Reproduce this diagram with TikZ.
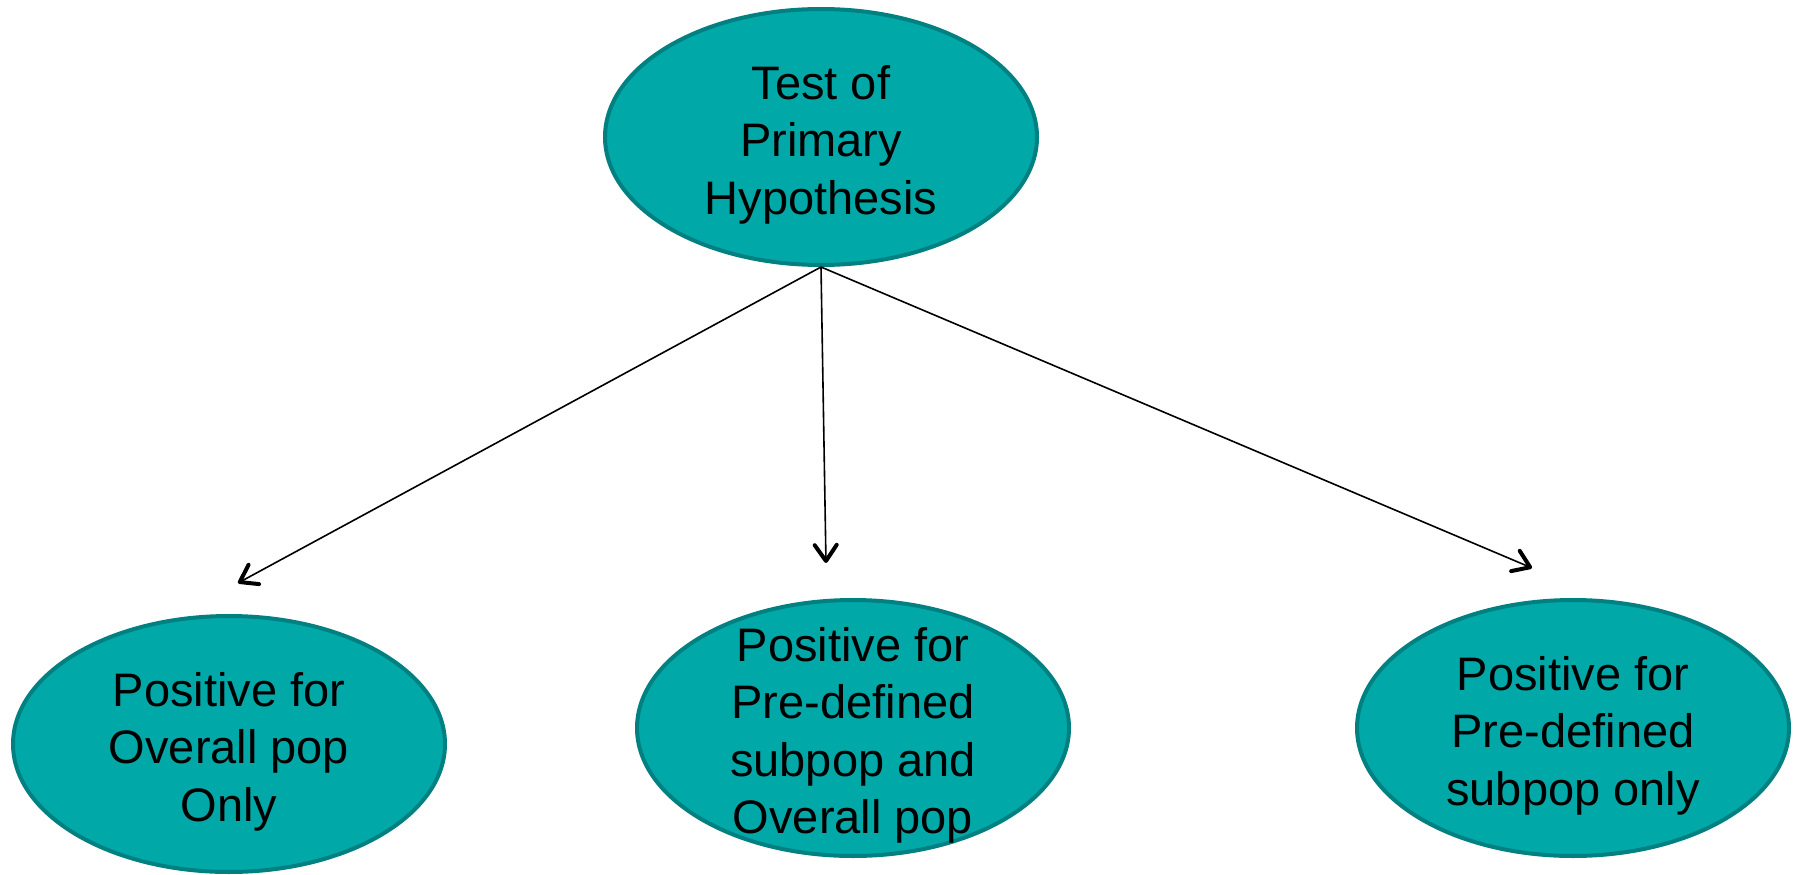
\documentclass[tikz,border=0pt]{standalone}
\usepackage{fontspec}
\setmainfont{Liberation Sans}
\usetikzlibrary{shapes.geometric,arrows.meta}
\definecolor{tealfill}{RGB}{0,168,168}
\definecolor{tealline}{RGB}{0,128,128}
\newcommand{\topgap}{\rule{0pt}{49pt}}
\tikzset{
  oval/.style={ellipse, draw=tealline, fill=tealfill, line width=4pt,
    minimum width=432pt, minimum height=256pt, inner sep=-150pt,
    align=center, font=\fontsize{47pt}{57.5pt}\selectfont, text=black},
  conn/.style={line width=1.6pt, draw=black,
    -{Straight Barb[length=16pt,width=22pt,line width=4pt,round]}}
}
\begin{document}
\begin{tikzpicture}[x=1pt,y=-1pt]
\useasboundingbox (0,0) rectangle (1800,875);
\node[oval] (top) at (821,137) {\topgap Test of\\Primary\\Hypothesis};
\node[oval] (left) at (229,744) {\topgap Positive for\\Overall pop\\Only};
\node[oval] (mid) at (853,728) {\topgap Positive for\\Pre-defined\\subpop and\\Overall pop};
\node[oval] (right) at (1573,728) {\topgap Positive for\\Pre-defined\\subpop only};
\coordinate (tl) at (238,583);
\coordinate (tm) at (826,563);
\coordinate (tr) at (1532,568);
\draw[conn] (top.south) -- (tl);
\draw[conn] (top.south) -- (tm);
\draw[conn] (top.south) -- (tr);
\end{tikzpicture}
\end{document}
